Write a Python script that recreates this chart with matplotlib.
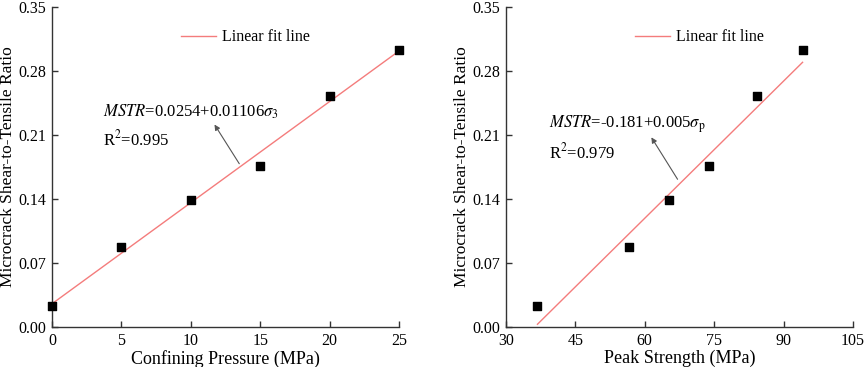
import matplotlib
matplotlib.use('Agg')
import matplotlib.pyplot as plt
import numpy as np

plt.rcParams['font.family'] = ['Liberation Serif', 'DejaVu Serif']
plt.rcParams['mathtext.fontset'] = 'stix'

# datos
sigma3 = [0, 5, 10, 15, 20, 25]
mstr = [0.023, 0.087, 0.139, 0.176, 0.253, 0.303]
peak = [36.8, 56.6, 65.3, 73.8, 84.3, 94.1]

fit_a = [0.0254, -0.181]
fit_b = [0.01106, 0.005]

y_ticks = [0.00, 0.07, 0.14, 0.21, 0.28, 0.35]
x_ticks_l = [0, 5, 10, 15, 20, 25]
x_ticks_r = [30, 45, 60, 75, 90, 105]

fig = plt.figure(figsize=(8.65, 3.67), dpi=100)
W, H = 865, 367
ax1 = fig.add_axes([52 / W, 1 - 327 / H, (399 - 52) / W, (327 - 7) / H])
ax2 = fig.add_axes([506 / W, 1 - 327 / H, (853 - 506) / W, (327 - 7) / H])

red = '#f47c7c'

def estilo(ax, xt, xlabel):
    ax.set_ylim(0, 0.35)
    ax.set_yticks(y_ticks)
    ax.set_yticklabels(['%.2f' % v for v in y_ticks])
    ax.set_xticks(xt)
    ax.set_xlim(xt[0], xt[-1])
    ax.spines['top'].set_visible(False)
    ax.spines['right'].set_visible(False)
    for s in ['left', 'bottom']:
        ax.spines[s].set_linewidth(1.0)
        ax.spines[s].set_color('#333333')
    ax.tick_params(direction='in', length=4, width=1, labelsize=11.5, color='#333333', pad=4)
    ax.set_xlabel(xlabel, fontsize=13, labelpad=1)
    ax.set_ylabel('Microcrack Shear-to-Tensile Ratio', fontsize=12.5, labelpad=2)
    ax.set_facecolor('none')

# izquierda
xl = np.array([sigma3[0], sigma3[-1]])
ax1.plot(xl, fit_a[0] + fit_b[0] * xl, color=red, lw=1, label='Linear fit line', zorder=2)
ax1.scatter(sigma3, mstr, marker='s', s=40, color='black', zorder=3, clip_on=False)
estilo(ax1, x_ticks_l, 'Confining Pressure (MPa)')
ax1.legend(loc='upper left', bbox_to_anchor=(0.33, 0.975), frameon=False, fontsize=11.5,
           handlelength=2.2, handletextpad=0.4)
ax1.annotate('', xy=(11.6, 0.224), xytext=(13.6, 0.176),
             arrowprops=dict(arrowstyle='-|>', color='#555555', lw=0.8, mutation_scale=8))
ax1.text(3.7, 0.235, r'$\it{MSTR}$=0.0254+0.01106$\sigma_3$', fontsize=12, va='center')
ax1.text(3.7, 0.205, r'R$^2$=0.995', fontsize=12, va='center')

# derecha
xr = np.array([peak[0], peak[-1]])
ax2.plot(xr, fit_a[1] + fit_b[1] * xr, color=red, lw=1, label='Linear fit line', zorder=2)
ax2.scatter(peak, mstr, marker='s', s=40, color='black', zorder=3, clip_on=False)
estilo(ax2, x_ticks_r, 'Peak Strength (MPa)')
ax2.legend(loc='upper left', bbox_to_anchor=(0.33, 0.975), frameon=False, fontsize=11.5,
           handlelength=2.2, handletextpad=0.4)
ax2.annotate('', xy=(61.1, 0.21), xytext=(67.4, 0.159),
             arrowprops=dict(arrowstyle='-|>', color='#555555', lw=0.8, mutation_scale=8))
ax2.text(39.4, 0.222, r'$\it{MSTR}$=-0.181+0.005$\sigma_\mathrm{p}$', fontsize=12, va='center')
ax2.text(39.4, 0.191, r'R$^2$=0.979', fontsize=12, va='center')

fig.savefig('out.png', dpi=100)
